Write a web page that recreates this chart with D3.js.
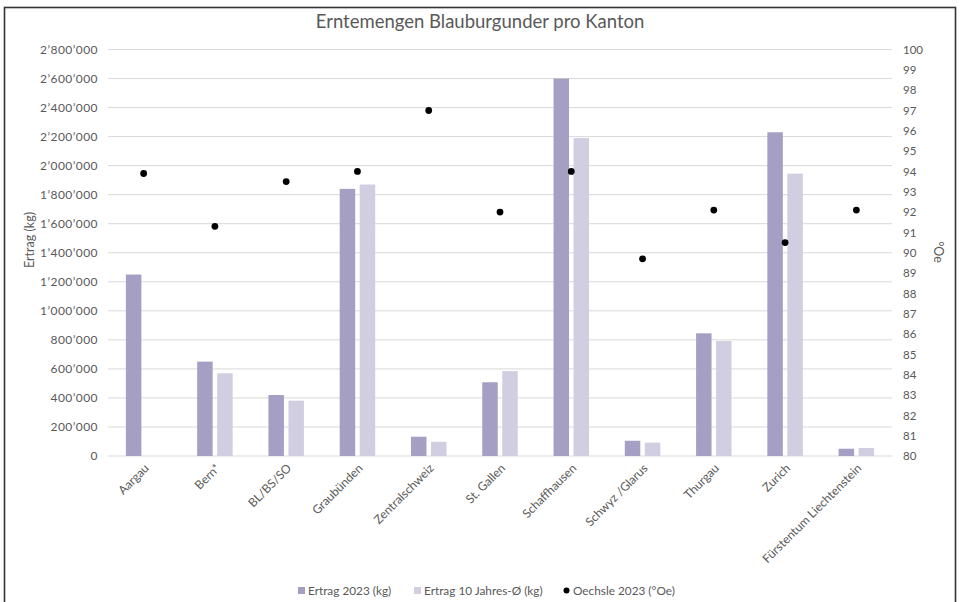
<!DOCTYPE html>
<html>
<head>
<meta charset="utf-8">
<script src="https://cdn.jsdelivr.net/npm/d3@7"></script>
<style>
  html, body { margin: 0; padding: 0; background: #fff; }
  svg { display: block; font-family: Lato, "Open Sans", sans-serif; }
</style>
</head>
<body>
<svg id="chart" width="960" height="602"></svg>
<script>
// Blauburgunder harvest per canton
const categories = ["Aargau", "Bern*", "BL/BS/SO", "Graubünden", "Zentralschweiz", "St. Gallen",
  "Schaffhausen", "Schwyz /Glarus", "Thurgau", "Zurich", "Fürstentum Liechtenstein"];
const ertrag2023 = [1250000, 650000, 420000, 1840000, 133000, 508000, 2600000, 105000, 845000, 2230000, 50000];
const ertrag10 = [0, 570000, 381000, 1870000, 98000, 585000, 2190000, 92000, 792000, 1945000, 55000];
const oechsle = [93.9, 91.3, 93.5, 94.0, 97.0, 92.0, 94.0, 89.7, 92.1, 90.5, 92.1];
const leftTicks = d3.range(0, 2800001, 200000);
const rightTicks = d3.range(80, 101, 1);
const seriesNames = ["Ertrag 2023 (kg)", "Ertrag 10 Jahres-Ø (kg)", "Oechsle 2023 (°Oe)"];
const colors = ["#a69fc4", "#d1cee2", "#000000"];
const textColor = "#595959";

const svg = d3.select("#chart");
const plot = { left: 108, right: 892, top: 49.5, bottom: 456 };

// frame
svg.append("rect").attr("x", 4.5).attr("y", 7.5).attr("width", 951).attr("height", 600)
  .attr("fill", "#fff").attr("stroke", "#333").attr("stroke-width", 1.6);

const x0 = d3.scaleBand().domain(categories).range([plot.left, plot.right]).padding(0);
const groupW = 35.5;
const x1 = d3.scaleBand().domain([0, 1])
  .range([x0.bandwidth() / 2 - groupW / 2, x0.bandwidth() / 2 + groupW / 2])
  .paddingInner(0.225).paddingOuter(0);
const yL = d3.scaleLinear().domain([0, 2800000]).range([plot.bottom, plot.top]);
const yR = d3.scaleLinear().domain([80, 100]).range([plot.bottom, plot.top]);

const fmt = v => d3.format(",")(v).replace(/,/g, "’");

// gridlines
svg.append("g").selectAll("line").data(leftTicks).join("line")
  .attr("x1", plot.left).attr("x2", plot.right)
  .attr("y1", d => yL(d)).attr("y2", d => yL(d))
  .attr("stroke", "#d9d9d9").attr("stroke-width", 1);

// left axis
const axL = svg.append("g").attr("transform", `translate(${plot.left - 10},0)`)
  .call(d3.axisLeft(yL).tickValues(leftTicks).tickFormat(fmt).tickSize(0).tickPadding(0));
axL.select(".domain").remove();
axL.selectAll("text").attr("fill", textColor)
  .style("font-size", "12px").style("letter-spacing", "0.45px").style("font-family", "Lato, sans-serif");

// right axis
const axR = svg.append("g").attr("transform", `translate(${plot.right + 11},0)`)
  .call(d3.axisRight(yR).tickValues(rightTicks).tickFormat(d3.format("d")).tickSize(0).tickPadding(0));
axR.select(".domain").remove();
axR.selectAll("text").attr("fill", textColor).style("font-size", "11.5px").style("font-family", "Lato, sans-serif");

// bottom axis (labels only)
const axB = svg.append("g").attr("transform", `translate(0,${plot.bottom})`)
  .call(d3.axisBottom(x0).tickSize(0).tickPadding(0));
axB.select(".domain").remove();
axB.selectAll("text")
  .attr("fill", textColor).style("font-size", "12px").style("font-family", "Lato, sans-serif")
  .attr("text-anchor", "end").attr("dy", "0.35em")
  .attr("transform", "translate(3,10) rotate(-45)");

// bars
const groups = svg.append("g").selectAll("g").data(categories).join("g")
  .attr("transform", d => `translate(${x0(d)},0)`);
groups.selectAll("rect").data((d, i) => [ertrag2023[i], ertrag10[i]].map((v, k) => ({ v, k })))
  .join("rect")
  .attr("x", d => x1(d.k)).attr("width", x1.bandwidth())
  .attr("y", d => yL(d.v)).attr("height", d => yL(0) - yL(d.v))
  .attr("fill", d => colors[d.k]);

// Oechsle markers
svg.append("g").selectAll("circle").data(oechsle).join("circle")
  .attr("cx", (d, i) => x0(categories[i]) + x0.bandwidth() / 2)
  .attr("cy", d => yR(d)).attr("r", 3.4).attr("fill", colors[2]);

// title
svg.append("text").attr("x", 480).attr("y", 28).attr("text-anchor", "middle")
  .attr("fill", textColor).style("font-size", "18.5px").text("Erntemengen Blauburgunder pro Kanton");

// axis titles
svg.append("text").attr("transform", `translate(34,240) rotate(-90)`).attr("text-anchor", "middle")
  .attr("fill", textColor).style("font-size", "12.5px").text("Ertrag (kg)");
svg.append("text").attr("transform", `translate(934,252) rotate(90)`).attr("text-anchor", "middle")
  .attr("fill", textColor).style("font-size", "12.5px").text("°Oe");

// legend
const legY = 591;
const leg = svg.append("g");
const legItems = [
  { x: 298, type: "rect", c: colors[0], t: seriesNames[0] },
  { x: 414, type: "rect", c: colors[1], t: seriesNames[1] },
  { x: 563, type: "dot", c: colors[2], t: seriesNames[2] }
];
legItems.forEach(it => {
  if (it.type === "rect") {
    leg.append("rect").attr("x", it.x).attr("y", legY - 4).attr("width", 7).attr("height", 7).attr("fill", it.c);
  } else {
    leg.append("circle").attr("cx", it.x + 3.5).attr("cy", legY - 0.5).attr("r", 3).attr("fill", it.c);
  }
  leg.append("text").attr("x", it.x + 10).attr("y", legY).attr("dy", "0.33em")
    .attr("fill", textColor).style("font-size", "11.8px").text(it.t);
});
</script>
</body>
</html>
